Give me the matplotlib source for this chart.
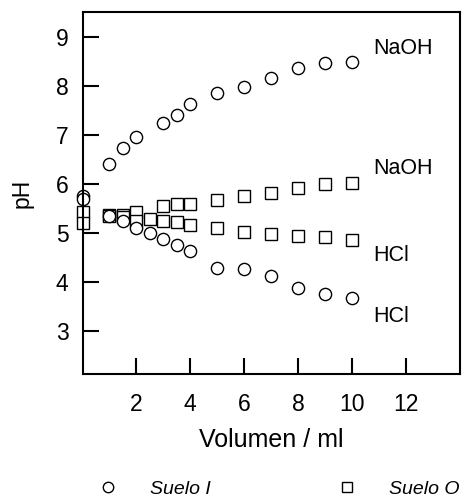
import matplotlib
matplotlib.use("Agg")
import matplotlib.pyplot as plt

plt.rcParams['font.family'] = ['Liberation Sans', 'DejaVu Sans']

# Suelo I (circulos)
vol_I_naoh = [0, 1, 1.5, 2, 3, 3.5, 4, 5, 6, 7, 8, 9, 10]
ph_I_naoh = [5.75, 6.41, 6.72, 6.96, 7.24, 7.39, 7.63, 7.84, 7.98, 8.16, 8.35, 8.45, 8.49]
vol_I_hcl = [0, 1, 1.5, 2, 2.5, 3, 3.5, 4, 5, 6, 7, 8, 9, 10]
ph_I_hcl = [5.68, 5.35, 5.23, 5.09, 4.99, 4.87, 4.75, 4.62, 4.29, 4.26, 4.11, 3.88, 3.76, 3.66]

# Suelo O (cuadrados)
vol_O_naoh = [0, 1, 1.5, 2, 3, 3.5, 4, 5, 6, 7, 8, 9, 10]
ph_O_naoh = [5.42, 5.36, 5.36, 5.43, 5.54, 5.58, 5.59, 5.66, 5.75, 5.81, 5.91, 6.0, 6.02]
vol_O_hcl = [0, 1, 1.5, 2, 2.5, 3, 3.5, 4, 5, 6, 7, 8, 9, 10]
ph_O_hcl = [5.19, 5.34, 5.33, 5.23, 5.27, 5.23, 5.21, 5.16, 5.09, 5.02, 4.97, 4.93, 4.91, 4.85]

etiquetas = ["NaOH", "NaOH", "HCl", "HCl"]
etiquetas_y = [8.76, 6.3, 4.53, 3.29]

fig = plt.figure(figsize=(4.68, 4.99), dpi=100)
ax = fig.add_axes([0.1763, 0.2505, 0.8056, 0.7255])

estilo = dict(linestyle='none', markerfacecolor='white', markeredgecolor='black',
              markeredgewidth=1.0, clip_on=False)
ax.plot(vol_O_naoh, ph_O_naoh, marker='s', markersize=8, **estilo)
ax.plot(vol_O_hcl, ph_O_hcl, marker='s', markersize=8, **estilo)
ax.plot(vol_I_naoh, ph_I_naoh, marker='o', markersize=8.8, **estilo)
ax.plot(vol_I_hcl, ph_I_hcl, marker='o', markersize=8.8, **estilo)

for texto, y in zip(etiquetas, etiquetas_y):
    ax.text(10.8, y, texto, fontsize=15.5, va='center', ha='left')

ax.set_xlim(0, 14)
ax.set_ylim(2.12, 9.5)
ax.set_xticks([2, 4, 6, 8, 10, 12])
ax.set_yticks([3, 4, 5, 6, 7, 8, 9])
ax.tick_params(direction='in', length=11.5, width=1.5, labelsize=16.5)
ax.tick_params(axis='x', pad=14)
ax.tick_params(axis='y', pad=10)
for lado in ax.spines.values():
    lado.set_linewidth(1.5)

ax.set_xlabel("Volumen / ml", fontsize=18, labelpad=8)
ax.set_ylabel("pH", fontsize=16.5, labelpad=16)

h1, = ax.plot([], [], marker='o', markersize=7.5, **estilo)
h2, = ax.plot([], [], marker='s', markersize=7.5, **estilo)
fig.legend([h1, h2], ["Suelo I", "Suelo O"], loc='center left', bbox_to_anchor=(0.21, 0.02),
           ncol=2, frameon=False, borderpad=0, borderaxespad=0, handlelength=1.0,
           handletextpad=1.66, columnspacing=6.5,
           prop={'style': 'italic', 'size': 14})

fig.savefig("out.png", dpi=100)
